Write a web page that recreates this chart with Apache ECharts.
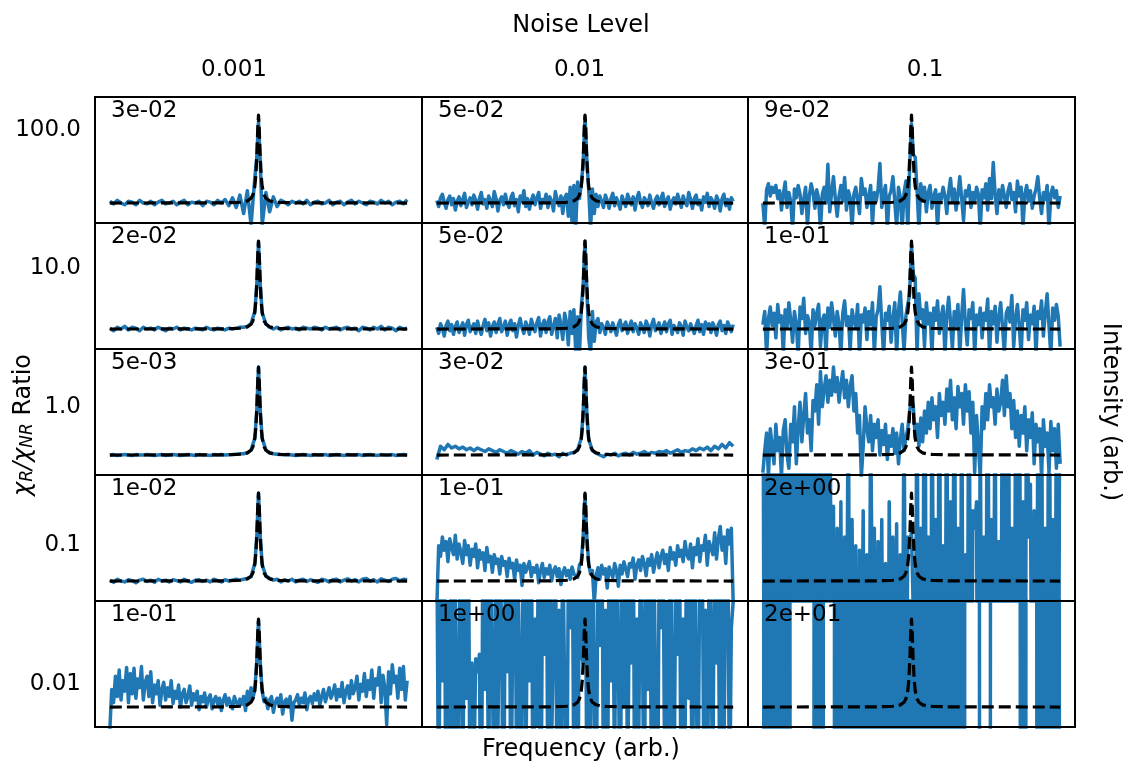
<!DOCTYPE html>
<html>
<head>
<meta charset="utf-8">
<script src="https://cdn.jsdelivr.net/npm/echarts@6/dist/echarts.min.js"></script>
<style>
html, body { margin: 0; padding: 0; background: #fff; }
#chart { width: 1131px; height: 767px; }
</style>
</head>
<body>
<div id="chart"></div>
<script>
// frequency samples (index units); coarse grid has two extra samples around the resonance
const freq = [0,1,2,3,4,5,6,7,8,9,10,11,12,13,14,15,16,17,18,19,20,21,22,23,24,25,26,27,28,29,
  30,31,32,33,34,35,36,37,38,39,39.5,40,40.5,41,42,43,44,45,46,47,48,49,50,51,52,53,54,55,56,57,58,59,
  60,61,62,63,64,65,66,67,68,69,70,71,72,73,74,75,76,77,78,79,80]
const freqFine = [0,0.5,1,1.5,2,2.5,3,3.5,4,4.5,5,5.5,6,6.5,7,7.5,8,8.5,9,9.5,
  10,10.5,11,11.5,12,12.5,13,13.5,14,14.5,15,15.5,16,16.5,17,17.5,18,18.5,19,19.5,
  20,20.5,21,21.5,22,22.5,23,23.5,24,24.5,25,25.5,26,26.5,27,27.5,28,28.5,29,29.5,
  30,30.5,31,31.5,32,32.5,33,33.5,34,34.5,35,35.5,36,36.5,37,37.5,38,38.5,39,39.5,
  40,40.5,41,41.5,42,42.5,43,43.5,44,44.5,45,45.5,46,46.5,47,47.5,48,48.5,49,49.5,
  50,50.5,51,51.5,52,52.5,53,53.5,54,54.5,55,55.5,56,56.5,57,57.5,58,58.5,59,59.5,
  60,60.5,61,61.5,62,62.5,63,63.5,64,64.5,65,65.5,66,66.5,67,67.5,68,68.5,69,69.5,
  70,70.5,71,71.5,72,72.5,73,73.5,74,74.5,75,75.5,76,76.5,77,77.5,78,78.5,79,79.5,80]

// true resonance (black dashed), normalised: baseline 0, peak 1
const resX = [0, 20, 30, 34, 35, 36, 37, 38, 38.5, 39, 39.3, 39.6, 39.8, 40, 40.2, 40.4, 40.7, 41, 41.5, 42, 43, 44, 45, 46, 50, 60, 80]
const resY = [0, 0.001, 0.002, 0.006, 0.009, 0.014, 0.025, 0.054, 0.093, 0.187, 0.32, 0.59, 0.85, 1, 0.85, 0.59, 0.32, 0.187, 0.093, 0.054, 0.025, 0.014, 0.009, 0.006, 0.002, 0.001, 0]

// retrieved spectra (blue), same normalisation
const r100_n0001 = [0.02,-0.01,0.03,0.00,-0.02,0.02,0.01,-0.02,0.03,0.00,
  -0.01,0.02,-0.02,0.01,0.03,-0.01,0.00,0.02,-0.02,0.01,
  0.03,-0.02,0.01,0.00,0.02,-0.03,0.02,0.01,-0.02,0.03,
  0.00,0.04,-0.03,0.06,-0.05,0.09,-0.12,0.14,-0.25,0.28,
  0.50,0.92,0.45,
  -0.25,0.12,-0.10,0.07,-0.04,0.03,0.01,-0.02,0.02,0.00,
  0.02,-0.01,0.03,-0.02,0.01,0.02,-0.01,0.00,0.03,-0.02,
  0.01,0.02,-0.02,0.01,0.03,-0.01,0.02,0.00,-0.02,0.02,
  0.01,-0.01,0.03,0.00,0.02,-0.02,0.01,0.02,-0.01,0.04]
const r100_n001 = [0.03,-0.04,0.06,0.10,0.01,-0.06,0.04,0.08,-0.02,0.05,
  -0.08,0.02,0.07,-0.03,0.04,0.11,-0.05,0.01,0.06,-0.02,
  0.09,0.03,-0.07,0.05,0.12,-0.01,0.04,-0.06,0.08,0.02,
  -0.04,0.13,0.05,-0.09,0.03,0.07,-0.02,0.10,0.00,-0.05,
  0.06,0.11,-0.03,0.04,-0.10,0.08,0.02,0.14,-0.04,0.05,
  -0.07,0.03,0.09,-0.02,0.06,0.12,-0.06,0.04,0.01,0.10,
  -0.05,0.07,0.02,-0.09,0.13,0.03,-0.03,0.08,-0.12,0.06,
  0.10,-0.15,0.18,-0.22,0.20,-0.28,0.24,0.05,0.22,0.45,
  0.98,0.50,0.15,-0.30,0.16,-0.12,0.10,-0.04,0.08,0.02,
  -0.05,0.09,0.03,-0.06,0.05,0.11,-0.03,0.06,0.00,-0.07,
  0.08,0.02,-0.04,0.10,0.04,-0.02,0.07,-0.08,0.05,0.12,
  0.01,-0.05,0.06,0.03,-0.03,0.09,0.00,-0.06,0.04,0.08,
  -0.02,0.05,0.11,-0.04,0.03,0.07,-0.07,0.02,0.06,-0.01,
  0.10,0.03,-0.05,0.08,0.01,-0.03,0.12,0.04,-0.06,0.05,
  0.09,-0.02,0.03,-0.08,0.07,0.01,0.11,-0.04,0.06,0.02,
  -0.06,0.08,0.03,-0.09,0.05,0.10,-0.03,0.04,-0.07,0.06,
  0.02]
const r100_n01 = [0.00,-0.28,0.15,0.22,0.08,0.18,0.12,0.20,0.05,0.14,
  -0.08,0.10,0.24,-0.05,0.12,0.02,-0.30,0.16,0.06,0.20,
  0.10,-0.12,0.04,0.18,-0.26,0.08,0.22,0.12,-0.06,0.15,
  0.05,-0.30,0.10,0.18,0.00,0.44,-0.10,0.12,0.30,0.05,
  -0.15,0.08,0.20,0.02,0.29,-0.08,0.14,0.06,-0.28,0.10,
  0.18,0.04,-0.12,0.28,0.10,0.16,-0.05,0.08,0.20,-0.25,
  0.12,0.02,0.16,0.45,-0.05,0.10,0.20,-0.30,0.08,0.14,
  0.30,0.02,-0.28,0.18,0.06,-0.30,0.12,0.25,-0.30,0.40,
  0.90,0.55,0.52,0.15,-0.30,0.22,0.05,0.18,-0.10,0.12,
  0.20,-0.06,0.08,0.15,-0.28,0.10,0.04,0.18,0.08,-0.12,
  0.12,0.28,0.02,0.16,-0.08,0.10,0.30,0.05,-0.20,0.14,
  0.08,0.20,-0.05,0.12,0.02,0.18,0.10,-0.30,0.15,0.06,
  0.22,-0.08,0.28,0.05,0.46,0.10,-0.12,0.15,0.02,0.20,
  0.08,-0.05,0.14,0.22,0.04,0.12,-0.10,0.25,0.08,0.18,
  -0.28,0.10,0.20,0.02,0.14,-0.06,0.08,0.16,0.30,0.05,
  -0.12,0.12,0.04,0.20,-0.30,0.10,0.18,0.06,0.14,-0.05,
  0.08]

const r10_n0001 = [0.01,-0.02,0.02,0.00,0.03,-0.01,0.02,0.01,-0.02,0.02,
  0.00,0.01,-0.01,0.02,0.00,-0.02,0.01,0.00,0.02,-0.01,
  0.01,0.00,-0.01,0.01,0.00,-0.01,0.02,0.00,-0.01,0.01,
  0.00,-0.01,0.01,0.00,0.01,0.02,0.02,0.03,0.06,0.20,
  0.47,0.99,0.49,
  0.18,0.06,0.02,0.00,0.02,-0.01,0.01,0.02,0.00,0.01,
  -0.01,0.02,0.01,0.00,0.02,0.01,-0.01,0.02,0.00,0.01,
  0.02,-0.01,0.01,0.02,0.00,0.01,-0.02,0.02,0.01,-0.01,
  0.02,0.00,0.03,-0.01,0.02,0.01,-0.02,0.02,0.00,0.01]
const r10_n001 = [0.02,-0.05,0.06,0.01,-0.08,0.04,0.09,-0.02,0.05,-0.06,
  0.03,0.08,-0.04,0.01,0.07,-0.07,0.05,0.10,-0.03,0.02,
  0.06,-0.05,0.09,0.00,-0.06,0.04,0.11,-0.02,0.07,-0.08,
  0.03,0.08,-0.04,0.06,0.12,-0.03,0.02,0.09,-0.07,0.05,
  0.10,-0.02,0.06,-0.09,0.04,0.12,0.01,-0.05,0.08,0.03,
  -0.06,0.11,0.04,-0.03,0.07,0.13,-0.08,0.05,0.10,-0.04,
  0.08,0.14,-0.06,0.03,0.12,-0.10,0.16,0.05,-0.12,0.18,
  0.08,-0.18,0.20,-0.05,0.22,-0.26,0.14,-0.30,0.25,0.50,
  1.00,0.45,-0.10,-0.28,0.20,-0.14,0.08,0.12,-0.04,0.06,
  0.02,-0.06,0.08,0.03,-0.03,0.07,0.00,-0.07,0.05,0.10,
  -0.02,0.04,0.08,-0.05,0.03,0.09,-0.03,0.06,0.01,-0.06,
  0.07,0.02,-0.04,0.09,0.04,-0.08,0.05,0.11,-0.02,0.03,
  0.07,-0.05,0.02,0.08,-0.03,0.06,0.10,-0.06,0.04,0.01,
  -0.04,0.07,0.03,-0.07,0.09,0.02,-0.02,0.06,0.08,-0.05,
  0.04,0.10,-0.03,0.05,-0.06,0.08,0.01,0.06,-0.04,0.07,
  0.02,-0.07,0.05,0.09,-0.02,0.04,-0.05,0.08,0.03,-0.03,
  0.05]
const r10_n01 = [0.05,0.20,-0.30,0.12,0.25,0.04,0.18,-0.10,0.28,0.08,
  0.15,-0.28,0.22,0.02,0.30,0.10,-0.15,0.20,0.06,-0.30,
  0.25,0.12,0.35,-0.05,0.15,0.08,-0.30,0.22,0.04,0.18,
  0.28,-0.20,0.10,0.16,-0.30,0.24,0.02,0.30,0.12,-0.08,
  0.20,0.06,-0.30,0.18,0.32,0.04,0.14,-0.25,0.22,0.10,
  0.02,0.28,-0.30,0.16,0.08,0.24,-0.12,0.20,0.05,0.30,
  -0.28,0.14,0.22,0.48,0.06,-0.30,0.18,0.10,0.26,-0.15,
  0.12,0.30,-0.30,0.20,0.42,0.08,-0.25,0.15,0.28,0.40,
  0.95,0.62,0.58,-0.30,0.40,0.12,0.22,-0.20,0.30,0.06,
  0.18,-0.28,0.24,0.10,0.32,-0.05,0.14,0.26,-0.30,0.16,
  0.36,0.08,-0.22,0.20,0.04,0.28,-0.30,0.15,0.45,0.06,
  -0.18,0.22,0.12,0.30,-0.30,0.16,0.05,0.24,-0.10,0.18,
  0.10,0.34,-0.30,0.20,0.06,0.26,-0.15,0.14,0.30,0.02,
  -0.28,0.18,0.24,0.08,0.38,-0.20,0.12,0.28,0.04,-0.30,
  0.22,0.10,0.30,-0.12,0.16,0.06,0.26,-0.30,0.20,0.12,
  0.32,-0.08,0.18,0.40,0.04,-0.30,0.24,0.10,0.28,0.14,
  -0.20]

const r1_n0001 = [0,0.005,-0.005,0,0.005,0,-0.005,0.005,0,0,
  0.005,0,-0.005,0,0.005,-0.005,0,0.005,0,-0.005,
  0,0.005,0,-0.005,0.005,0,0,-0.005,0.005,0,
  0.005,0,0.003,0.006,0.01,0.014,0.015,0.025,0.055,0.19,
  0.48,1.00,0.48,
  0.19,0.055,0.025,0.014,0.01,0.006,0.004,0.005,0,-0.005,
  0,0.005,0,-0.005,0.005,0,0,0.005,-0.005,0,
  0.005,0,-0.005,0.005,0,0,0.005,-0.005,0,0.005,
  0,-0.005,0.005,0,0,0.005,-0.005,0,0.005,0]
const r1_n001 = [-0.05,0.10,0.06,0.12,0.08,0.10,0.07,0.09,0.06,0.08,
  0.05,0.08,0.06,0.04,0.07,0.05,0.03,0.06,0.04,0.02,
  0.05,0.03,0.01,0.04,0.02,0.05,0.00,0.03,0.01,-0.01,
  0.02,0.00,0.01,-0.02,0.02,0.00,0.02,0.03,0.06,0.19,
  0.48,1.00,0.48,
  0.18,0.05,0.02,0.00,-0.02,0.01,0.00,0.02,-0.01,0.01,
  0.02,0.00,0.03,0.01,0.02,0.04,0.01,0.03,0.02,0.04,
  0.03,0.05,0.02,0.04,0.06,0.03,0.05,0.04,0.07,0.05,
  0.08,0.06,0.09,0.05,0.10,0.07,0.12,0.08,0.14,0.10]
const r1_n01 = [-0.20,0.05,0.25,-0.25,0.30,0.10,-0.10,0.35,0.05,0.20,
  -0.25,0.28,0.40,0.00,-0.15,0.35,0.15,0.55,-0.10,0.30,
  0.60,0.15,0.45,0.70,0.25,0.40,0.05,0.62,0.50,0.80,
  0.35,0.95,0.55,0.75,0.90,0.60,0.85,0.68,1.00,0.72,
  0.88,0.60,0.80,0.95,0.65,0.85,0.55,0.78,0.90,0.50,
  0.70,0.25,0.45,-0.25,0.10,0.55,0.30,0.15,0.45,0.05,
  0.35,0.20,0.40,0.00,0.28,0.12,0.35,-0.05,0.22,0.10,
  0.30,0.02,0.25,-0.10,0.18,0.35,0.05,0.20,0.30,0.50,
  0.65,0.55,0.20,0.35,0.10,0.42,0.15,0.50,0.25,0.60,
  0.30,0.65,0.40,0.55,0.20,0.70,0.45,0.60,0.35,0.75,
  0.50,0.85,0.40,0.65,0.30,0.78,0.55,0.70,0.35,0.80,
  0.50,0.72,0.25,0.60,-0.20,0.45,0.10,-0.25,0.55,0.30,
  0.70,0.40,0.80,0.55,0.65,0.35,0.75,0.50,0.60,0.85,
  0.45,0.90,0.55,0.70,0.30,0.62,0.20,0.50,0.10,0.45,
  0.25,0.55,0.05,0.40,0.20,0.48,-0.10,0.35,0.15,0.30,
  -0.25,0.40,0.10,0.25,-0.20,0.38,0.05,0.30,-0.15,0.35,
  -0.10]

const r01_n0001 = [0.01,-0.015,0.02,0.00,-0.01,0.015,0.005,-0.02,0.01,0.02,
  -0.005,0.01,-0.015,0.02,0.00,0.01,-0.01,0.015,0.005,-0.01,
  0.02,0.00,-0.015,0.01,0.015,-0.005,0.01,-0.01,0.02,0.005,
  -0.01,0.015,0.00,0.01,0.02,0.01,0.02,0.03,0.05,0.20,
  0.47,1.00,0.49,
  0.18,0.06,0.03,0.01,0.02,-0.01,0.015,0.00,0.02,-0.01,
  0.01,0.02,-0.005,0.015,0.00,-0.015,0.02,0.01,-0.01,0.015,
  0.02,-0.01,0.01,0.025,0.00,0.015,-0.01,0.02,0.03,0.00,
  0.015,-0.01,0.025,0.01,-0.005,0.02,0.03,0.00,0.02,0.015]
const r01_n001 = [-0.30,0.40,0.28,0.50,0.35,0.45,0.22,0.48,0.38,0.30,
  0.52,0.25,0.42,0.33,0.20,0.46,0.30,0.40,0.18,0.36,
  0.28,0.42,0.15,0.35,0.25,0.32,0.12,0.38,0.22,0.28,
  0.10,0.30,0.20,0.25,0.08,0.28,0.18,0.22,0.05,0.26,
  0.15,0.20,0.02,0.24,0.12,0.18,-0.05,0.20,0.10,0.16,
  0.22,0.05,0.15,0.10,0.18,-0.02,0.12,0.20,0.04,0.14,
  0.08,0.18,0.00,0.12,0.16,0.05,0.14,-0.04,0.10,0.15,
  0.06,0.12,0.02,0.16,0.08,0.10,0.04,0.18,0.22,0.50,
  0.98,0.50,0.20,0.08,0.12,-0.25,0.06,0.15,0.02,0.18,
  0.08,0.14,-0.08,0.16,0.10,0.04,0.20,0.12,-0.06,0.18,
  0.08,0.22,0.14,0.05,0.20,0.16,0.26,0.02,0.18,0.24,
  0.12,0.28,0.20,0.06,0.25,0.18,0.30,0.10,0.22,0.32,
  0.15,0.28,0.35,0.20,0.30,0.12,0.38,0.25,0.32,0.18,
  0.40,0.28,0.35,0.22,0.45,0.30,0.25,0.42,0.15,0.38,
  0.30,0.48,0.22,0.40,0.35,0.52,0.18,0.45,0.38,0.30,
  0.55,0.25,0.48,0.62,0.35,0.50,0.20,0.58,0.42,0.60,
  -0.25]
const r01_n01 = [3.2,-4.1,2.6,-2.8,4.5,-3.6,1.9,-4.4,3.1,-2.2,
  4.2,-3.3,2.8,-5.0,3.6,-1.9,4.0,-3.8,1.4,-2.7,
  3.5,-2.4,4.9,-3.6,1.7,-1.2,5.2,-3.1,2.5,-2.0,
  3.7,-4.0,2.35,-1.6,1.3,-2.9,3.3,-2.2,0.85,-3.5,
  0.6,-2.4,0.9,-3.6,0.5,-1.2,2.4,-3.1,0.7,-2.0,
  0.4,-4.0,0.35,-1.6,0.8,-2.9,0.3,-2.2,1.85,-0.5,
  0.6,-3.0,0.45,-1.4,0.7,-2.6,0.2,-3.3,0.9,-1.1,
  0.5,-2.5,0.65,-3.4,0.3,-1.8,2.2,-2.7,0.5,0.45,
  0.55,-0.4,-2.1,3.0,-3.8,0.6,-2.6,4.8,-1.8,0.5,
  -4.6,2.7,-1.3,0.7,-2.9,3.8,-3.7,0.4,-2.2,3.3,
  -4.9,0.9,-3.1,3.8,-2.3,0.6,-4.2,2.8,-3.0,0.3,
  -1.6,3.5,-3.9,0.8,0.6,0.9,-4.8,2.2,-3.1,0.5,
  -2.4,4.9,-3.7,0.7,-1.8,2.6,-4.3,0.45,-2.1,3.2,
  0.4,-3.5,4.4,-2.7,0.6,-4.1,2.3,-1.5,4.0,-3.2,
  0.9,-4.5,3.7,0.5,1.1,-2.8,0.8,-3.6,2.0,-1.9,
  3.4,-4.7,0.6,-3.0,4.5,-2.2,0.7,-4.0,2.7,-3.3,
  3.9]

const r001_n0001 = [-0.25,0.20,0.05,0.35,0.12,0.42,0.08,0.30,0.18,0.45,
  0.05,0.38,0.15,0.44,0.10,0.32,0.22,0.46,0.08,0.28,
  0.35,0.12,0.40,0.05,0.25,0.15,0.30,0.02,0.20,0.28,
  0.08,0.22,0.12,0.30,0.04,0.18,0.10,0.25,0.00,0.15,
  0.20,0.05,0.12,0.24,0.02,0.15,0.08,0.18,-0.03,0.12,
  0.06,0.16,0.00,0.10,0.14,-0.02,0.08,0.12,0.03,0.10,
  -0.04,0.08,0.14,0.02,0.10,0.05,-0.02,0.12,0.06,0.01,
  0.09,0.03,0.12,-0.04,0.18,0.05,0.22,0.10,0.20,0.50,
  0.98,0.48,0.18,0.06,0.10,-0.02,0.08,0.12,-0.06,0.05,
  0.10,0.02,0.14,-0.08,0.06,0.09,0.00,0.12,-0.15,0.05,
  0.08,0.14,0.02,0.10,0.05,0.16,-0.03,0.09,0.12,0.04,
  0.15,0.08,0.18,0.02,0.12,0.20,0.06,0.14,0.22,0.10,
  0.16,0.25,0.08,0.20,0.12,0.28,0.05,0.18,0.24,0.10,
  0.30,0.15,0.22,0.35,0.08,0.26,0.18,0.38,0.12,0.30,
  0.20,0.42,0.10,0.32,0.25,0.45,0.05,0.36,0.22,-0.20,
  0.40,0.15,0.48,0.28,0.35,0.10,0.44,0.20,0.46,0.08,
  0.30]
const r001_n001 = [2.0,-1.5,1.8,0.3,2.5,-2.0,1.2,-0.5,3.0,-1.0,
  1.5,-2.0,0.6,2.2,-1.2,1.8,0.1,2.6,-1.8,0.5,
  -0.8,0.55,0.4,0.6,-2.2,2.8,0.2,1.3,-1.0,2.4,
  0.5,-1.6,1.9,-0.3,2.1,0.8,-2.0,1.7,0.4,2.3,
  -1.4,0.9,2.6,-0.6,1.5,-2.3,0.7,2.0,-1.1,1.6,
  0.3,2.4,-1.7,1.0,-0.2,2.2,-2.5,1.4,0.6,2.7,
  -1.3,1.9,-0.4,0.8,2.5,-1.9,1.1,-0.7,2.0,0.2,
  -2.1,1.6,0.9,2.3,-1.0,1.3,-2.4,2.1,0.6,0.5,
  2.5,-1.0,1.6,-0.6,2.4,0.2,-1.8,1.9,0.7,2.7,
  -1.2,1.1,-2.1,2.2,0.3,1.5,-0.9,2.9,0.6,-1.5,
  1.8,0.0,2.3,-1.1,1.4,0.5,2.6,-2.4,1.0,-0.4,
  2.0,0.8,-1.7,2.5,0.2,1.7,-1.3,2.1,0.4,-2.3,
  1.6,0.9,2.4,-0.8,1.2,-1.9,2.8,0.3,-1.4,1.7,
  0.6,2.2,-2.0,1.0,-0.5,2.5,0.1,1.4,-1.6,2.3,
  0.4,-1.2,1.8,2.6,-0.3,1.1,-2.2,2.0,0.7,-1.0,
  2.4,0.5,1.3,-1.8,2.1,-0.6,1.5,2.7,-1.4,0.9,
  1.2]
const r001_n01 = [22,-25,18,-30,24,-16,28,-21,26,-19,
  31,-24,20,-27,23,-15,-31,-22,-38,-19,
  -26,-33,-18,-29,-24,-36,-20,-27,25,-22,
  30,-18,27,-24,-30,-21,-35,-19,-26,24,
  -19,30,-25,21,-33,16,-27,23,-20,29,
  -18,25,-22,19,-26,31,-17,24,-29,20,
  -23,27,-18,32,-21,26,-30,19,-25,22,
  -28,24,-19,30,-23,18,-26,29,-21,25,
  -18,27,-24,20,-31,23,-17,28,-22,19,
  -26,33,-20,24,-29,18,-23,27,-19,31,
  -25,21,-28,17,-24,30,-20,26,-33,22,
  18,29,24,35,20,27,31,-22,-30,-19,
  -26,-34,-21,25,18,32,21,27,36,19,
  24,30,17,28,22,33,20,26,29,-24,
  19,-27,22,30,18,26,33,21,-25,20,
  -29,24,-18,31,-22,26,-30,19,-23,28,
  -20]

const spectra = [
  [r100_n0001, r100_n001, r100_n01],
  [r10_n0001, r10_n001, r10_n01],
  [r1_n0001, r1_n001, r1_n01],
  [r01_n0001, r01_n001, r01_n01],
  [r001_n0001, r001_n001, r001_n01]
]
const errors = [
  ['3e-02', '5e-02', '9e-02'],
  ['2e-02', '5e-02', '1e-01'],
  ['5e-03', '3e-02', '3e-01'],
  ['1e-02', '1e-01', '2e+00'],
  ['1e-01', '1e+00', '2e+01']
]
const rowLabels = ['100.0', '10.0', '1.0', '0.1', '0.01']
const colLabels = ['0.001', '0.01', '0.1']

const FONT = 'DejaVu Sans'
const LEFT = 95, TOP = 97, PW = 980 / 3, PH = 126

const grids = [], xAxes = [], yAxes = [], series = [], graphics = []

spectra.forEach((row, r) => {
  row.forEach((vals, c) => {
    const k = r * 3 + c
    const gl = Math.round(LEFT + c * PW), gt = TOP + r * PH
    const gw = Math.round(LEFT + (c + 1) * PW) - gl
    const xs = vals.length === freqFine.length ? freqFine : freq
    grids.push({ left: gl, top: gt, width: gw, height: PH })
    xAxes.push({ type: 'value', gridIndex: k, min: -4, max: 84, show: false })
    yAxes.push({ type: 'value', gridIndex: k, min: -0.227, max: 1.205, show: false })
    series.push({
      type: 'line', xAxisIndex: k, yAxisIndex: k, symbol: 'none', clip: true, silent: true, z: 2,
      lineStyle: { color: '#1f77b4', width: 3.5, join: 'round' },
      data: xs.map((f, i) => [f, vals[i]])
    })
    series.push({
      type: 'line', xAxisIndex: k, yAxisIndex: k, symbol: 'none', clip: true, silent: true, z: 3,
      lineStyle: { color: '#000', width: 3.2, type: [12, 5], join: 'round' },
      data: resX.map((x, i) => [x, resY[i]])
    })
    graphics.push({
      type: 'rect', z: 100, silent: true,
      shape: { x: gl, y: gt, width: gw, height: PH },
      style: { fill: 'none', stroke: '#000', lineWidth: 2 }
    })
    graphics.push({
      type: 'text', z: 101, silent: true, x: gl + 16, y: gt + 14,
      style: { text: errors[r][c], fontSize: 23, fontFamily: FONT, fill: '#000', align: 'left', verticalAlign: 'middle' }
    })
  })
})

// outer labels
const txt = (text, x, y, opts) => ({
  type: 'text', z: 101, silent: true, x, y,
  style: Object.assign({ text, fontSize: 23, fontFamily: FONT, fill: '#000', align: 'center', verticalAlign: 'middle' }, opts || {})
})
graphics.push(txt('Noise Level', 581, 26, { fontSize: 24 }))
colLabels.forEach((t, j) => graphics.push(txt(t, 234 + j * 345.5, 70)))
rowLabels.forEach((t, i) => graphics.push(txt(t, 81, 130 + i * 138.5, { align: 'right' })))
graphics.push(txt('Frequency (arb.)', 581, 750, { fontSize: 24 }))
graphics.push(Object.assign(txt('Intensity (arb.)', 1110, 412, { fontSize: 24 }), { rotation: -Math.PI / 2 }))
graphics.push({
  type: 'text', z: 101, silent: true, x: 24, y: 425, rotation: Math.PI / 2,
  style: {
    text: '{m|χ}{s|R}{m|/χ}{s|NR}{n| Ratio}',
    align: 'center', verticalAlign: 'middle', fill: '#000',
    rich: {
      m: { fontSize: 24, fontFamily: FONT, fontStyle: 'italic' },
      s: { fontSize: 17, fontFamily: FONT, fontStyle: 'italic', verticalAlign: 'bottom' },
      n: { fontSize: 24, fontFamily: FONT }
    }
  }
})

const chart = echarts.init(document.getElementById('chart'))
chart.setOption({
  animation: false,
  backgroundColor: '#fff',
  grid: grids,
  xAxis: xAxes,
  yAxis: yAxes,
  series: series,
  graphic: graphics
})
</script>
</body>
</html>
